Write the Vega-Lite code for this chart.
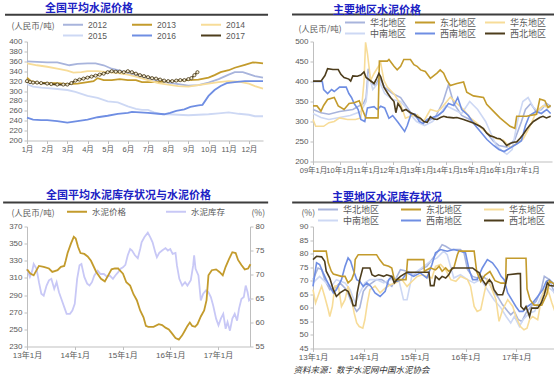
{
"$schema": "https://vega.github.io/schema/vega-lite/v6.json",
"background": "white",
"padding": {"left": 2, "top": 2.5, "right": 0, "bottom": 0},
"config": {
  "font": "Liberation Sans, Noto Sans CJK SC",
  "view": {"stroke": null},
  "axis": {"grid": false, "labelFontSize": 8, "labelColor": "#595959", "domainColor": "#bfbfbf", "tickColor": "#bfbfbf", "tickSize": 3, "labelPadding": 2, "labelOverlap": false, "labelFlush": false, "titleFontSize": 8.5, "titleColor": "#595959", "titleFontWeight": "normal", "titleFont": "Noto Sans CJK SC", "labelFont": "Liberation Sans, Noto Sans CJK SC"},
  "title": {"anchor": "start", "frame": "group", "fontSize": 11, "color": "#1c22c4", "font": "Noto Sans CJK SC", "fontWeight": "bold"},
  "legend": {"orient": "none", "direction": "horizontal", "symbolType": "M-6,0H-1", "symbolSize": 64, "symbolStrokeWidth": 2, "labelFontSize": 8.5, "labelColor": "#595959", "labelOffset": -4, "rowPadding": 1, "title": null, "labelFont": "Liberation Sans, Noto Sans CJK SC"}
},
"datasets": {
"p1": [
{"m":1,"s":"2012","v":360},{"m":1.5,"s":"2012","v":359},{"m":2,"s":"2012","v":358},{"m":2.5,"s":"2012","v":358},{"m":2.8,"s":"2012","v":355},{"m":3.1,"s":"2012","v":352},{"m":3.5,"s":"2012","v":355},{"m":4,"s":"2012","v":356},{"m":4.4,"s":"2012","v":356},{"m":4.8,"s":"2012","v":352},{"m":5.2,"s":"2012","v":345},{"m":5.6,"s":"2012","v":341},{"m":6,"s":"2012","v":336},{"m":6.5,"s":"2012","v":330},{"m":7,"s":"2012","v":325},{"m":7.5,"s":"2012","v":321},{"m":8,"s":"2012","v":317},{"m":8.5,"s":"2012","v":314},{"m":9,"s":"2012","v":311},{"m":9.5,"s":"2012","v":312},{"m":10,"s":"2012","v":317},{"m":10.5,"s":"2012","v":324},{"m":11,"s":"2012","v":333},{"m":11.3,"s":"2012","v":338},{"m":11.7,"s":"2012","v":338},{"m":12,"s":"2012","v":334},{"m":12.3,"s":"2012","v":330},{"m":12.7,"s":"2012","v":327},
{"m":1,"s":"2013","v":327},{"m":1.2,"s":"2013","v":320},{"m":1.5,"s":"2013","v":317},{"m":2,"s":"2013","v":316},{"m":2.5,"s":"2013","v":316},{"m":3,"s":"2013","v":314},{"m":3.5,"s":"2013","v":315},{"m":4,"s":"2013","v":318},{"m":4.3,"s":"2013","v":320},{"m":4.5,"s":"2013","v":326},{"m":4.8,"s":"2013","v":322},{"m":5.2,"s":"2013","v":322},{"m":5.6,"s":"2013","v":324},{"m":6,"s":"2013","v":322},{"m":6.4,"s":"2013","v":322},{"m":6.7,"s":"2013","v":318},{"m":7,"s":"2013","v":318},{"m":7.5,"s":"2013","v":318},{"m":8,"s":"2013","v":320},{"m":8.5,"s":"2013","v":321},{"m":9,"s":"2013","v":322},{"m":9.5,"s":"2013","v":323},{"m":10,"s":"2013","v":327},{"m":10.3,"s":"2013","v":332},{"m":10.6,"s":"2013","v":338},{"m":11,"s":"2013","v":342},{"m":11.3,"s":"2013","v":347},{"m":11.8,"s":"2013","v":353},{"m":12.2,"s":"2013","v":358},{"m":12.5,"s":"2013","v":357},{"m":12.7,"s":"2013","v":356},
{"m":1,"s":"2014","v":356},{"m":1.5,"s":"2014","v":352},{"m":2,"s":"2014","v":349},{"m":2.5,"s":"2014","v":345},{"m":3,"s":"2014","v":341},{"m":3.3,"s":"2014","v":337},{"m":3.7,"s":"2014","v":338},{"m":4,"s":"2014","v":340},{"m":4.5,"s":"2014","v":340},{"m":5,"s":"2014","v":338},{"m":5.5,"s":"2014","v":336},{"m":6,"s":"2014","v":333},{"m":6.5,"s":"2014","v":328},{"m":7,"s":"2014","v":322},{"m":7.5,"s":"2014","v":316},{"m":8,"s":"2014","v":313},{"m":8.5,"s":"2014","v":310},{"m":9,"s":"2014","v":309},{"m":9.5,"s":"2014","v":312},{"m":10,"s":"2014","v":315},{"m":10.5,"s":"2014","v":318},{"m":11,"s":"2014","v":320},{"m":11.5,"s":"2014","v":319},{"m":12,"s":"2014","v":315},{"m":12.3,"s":"2014","v":310},{"m":12.7,"s":"2014","v":305},
{"m":1,"s":"2015","v":314},{"m":1.3,"s":"2015","v":309},{"m":1.7,"s":"2015","v":307},{"m":2,"s":"2015","v":306},{"m":2.5,"s":"2015","v":304},{"m":3,"s":"2015","v":302},{"m":3.4,"s":"2015","v":298},{"m":3.7,"s":"2015","v":294},{"m":4,"s":"2015","v":290},{"m":4.5,"s":"2015","v":286},{"m":5,"s":"2015","v":279},{"m":5.5,"s":"2015","v":277},{"m":6,"s":"2015","v":269},{"m":6.4,"s":"2015","v":264},{"m":6.7,"s":"2015","v":262},{"m":7,"s":"2015","v":262},{"m":7.3,"s":"2015","v":257},{"m":7.7,"s":"2015","v":253},{"m":8,"s":"2015","v":253},{"m":8.5,"s":"2015","v":252},{"m":9,"s":"2015","v":251},{"m":9.5,"s":"2015","v":252},{"m":10,"s":"2015","v":253},{"m":10.5,"s":"2015","v":255},{"m":11,"s":"2015","v":257},{"m":11.5,"s":"2015","v":254},{"m":12,"s":"2015","v":252},{"m":12.3,"s":"2015","v":249},{"m":12.7,"s":"2015","v":249},
{"m":1,"s":"2016","v":246},{"m":1.3,"s":"2016","v":242},{"m":1.7,"s":"2016","v":241},{"m":2,"s":"2016","v":241},{"m":2.5,"s":"2016","v":239},{"m":3,"s":"2016","v":236},{"m":3.5,"s":"2016","v":239},{"m":4,"s":"2016","v":242},{"m":4.5,"s":"2016","v":247},{"m":5,"s":"2016","v":250},{"m":5.5,"s":"2016","v":254},{"m":6,"s":"2016","v":256},{"m":6.2,"s":"2016","v":258},{"m":6.6,"s":"2016","v":257},{"m":7,"s":"2016","v":256},{"m":7.5,"s":"2016","v":254},{"m":7.8,"s":"2016","v":253},{"m":8.1,"s":"2016","v":256},{"m":8.4,"s":"2016","v":260},{"m":8.8,"s":"2016","v":263},{"m":9.1,"s":"2016","v":268},{"m":9.5,"s":"2016","v":271},{"m":9.7,"s":"2016","v":272},{"m":10,"s":"2016","v":290},{"m":10.3,"s":"2016","v":302},{"m":10.6,"s":"2016","v":310},{"m":10.9,"s":"2016","v":316},{"m":11.3,"s":"2016","v":318},{"m":11.8,"s":"2016","v":320},{"m":12.7,"s":"2016","v":320},
{"m":1,"s":"2017","v":320},{"m":1.15,"s":"2017","v":318},{"m":1.3,"s":"2017","v":317},{"m":1.5,"s":"2017","v":317},{"m":1.7,"s":"2017","v":316},{"m":2,"s":"2017","v":315},{"m":2.2,"s":"2017","v":314},{"m":2.5,"s":"2017","v":313},{"m":2.8,"s":"2017","v":313},{"m":3,"s":"2017","v":313},{"m":3.2,"s":"2017","v":316},{"m":3.4,"s":"2017","v":321},{"m":3.6,"s":"2017","v":323},{"m":3.8,"s":"2017","v":325},{"m":4,"s":"2017","v":327},{"m":4.2,"s":"2017","v":329},{"m":4.4,"s":"2017","v":331},{"m":4.6,"s":"2017","v":333},{"m":4.8,"s":"2017","v":335},{"m":5,"s":"2017","v":338},{"m":5.2,"s":"2017","v":340},{"m":5.4,"s":"2017","v":339},{"m":5.6,"s":"2017","v":339},{"m":5.8,"s":"2017","v":338},{"m":6,"s":"2017","v":340},{"m":6.2,"s":"2017","v":338},{"m":6.4,"s":"2017","v":335},{"m":6.6,"s":"2017","v":332},{"m":6.8,"s":"2017","v":330},{"m":7,"s":"2017","v":328},{"m":7.2,"s":"2017","v":326},{"m":7.4,"s":"2017","v":325},{"m":7.6,"s":"2017","v":323},{"m":7.8,"s":"2017","v":321},{"m":8,"s":"2017","v":320},{"m":8.2,"s":"2017","v":320},{"m":8.4,"s":"2017","v":321},{"m":8.6,"s":"2017","v":322},{"m":8.8,"s":"2017","v":322},{"m":9,"s":"2017","v":324},{"m":9.15,"s":"2017","v":326},{"m":9.3,"s":"2017","v":332},{"m":9.45,"s":"2017","v":338}
],
"p2": [
{"x":2009.0,"s":"华北地区","v":330},{"x":2009.3,"s":"华北地区","v":322},{"x":2009.6,"s":"华北地区","v":318},{"x":2010.0,"s":"华北地区","v":325},{"x":2010.5,"s":"华北地区","v":330},{"x":2010.9,"s":"华北地区","v":345},{"x":2011.0,"s":"华北地区","v":360},{"x":2011.08,"s":"华北地区","v":432},{"x":2011.2,"s":"华北地区","v":395},{"x":2011.35,"s":"华北地区","v":390},{"x":2011.5,"s":"华北地区","v":410},{"x":2011.7,"s":"华北地区","v":385},{"x":2012.0,"s":"华北地区","v":370},{"x":2012.3,"s":"华北地区","v":360},{"x":2012.5,"s":"华北地区","v":340},{"x":2012.7,"s":"华北地区","v":320},{"x":2013.0,"s":"华北地区","v":305},{"x":2013.3,"s":"华北地区","v":300},{"x":2013.6,"s":"华北地区","v":310},{"x":2013.9,"s":"华北地区","v":350},{"x":2014.1,"s":"华北地区","v":392},{"x":2014.3,"s":"华北地区","v":345},{"x":2014.6,"s":"华北地区","v":315},{"x":2014.9,"s":"华北地区","v":305},{"x":2015.2,"s":"华北地区","v":292},{"x":2015.5,"s":"华北地区","v":275},{"x":2015.8,"s":"华北地区","v":250},{"x":2016.0,"s":"华北地区","v":240},{"x":2016.3,"s":"华北地区","v":236},{"x":2016.6,"s":"华北地区","v":255},{"x":2016.85,"s":"华北地区","v":300},{"x":2017.0,"s":"华北地区","v":330},{"x":2017.2,"s":"华北地区","v":345},{"x":2017.4,"s":"华北地区","v":325},{"x":2017.6,"s":"华北地区","v":330},{"x":2017.8,"s":"华北地区","v":345},{"x":2017.95,"s":"华北地区","v":338},
{"x":2009.0,"s":"中南地区","v":320},{"x":2009.3,"s":"中南地区","v":310},{"x":2009.6,"s":"中南地区","v":305},{"x":2010.0,"s":"中南地区","v":310},{"x":2010.4,"s":"中南地区","v":315},{"x":2010.8,"s":"中南地区","v":325},{"x":2011.0,"s":"中南地区","v":350},{"x":2011.1,"s":"中南地区","v":420},{"x":2011.25,"s":"中南地区","v":380},{"x":2011.5,"s":"中南地区","v":400},{"x":2011.7,"s":"中南地区","v":370},{"x":2012.0,"s":"中南地区","v":355},{"x":2012.3,"s":"中南地区","v":350},{"x":2012.5,"s":"中南地区","v":335},{"x":2012.7,"s":"中南地区","v":315},{"x":2012.9,"s":"中南地区","v":300},{"x":2013.2,"s":"中南地区","v":290},{"x":2013.5,"s":"中南地区","v":300},{"x":2013.8,"s":"中南地区","v":320},{"x":2014.0,"s":"中南地区","v":340},{"x":2014.3,"s":"中南地区","v":330},{"x":2014.6,"s":"中南地区","v":320},{"x":2014.9,"s":"中南地区","v":350},{"x":2015.2,"s":"中南地区","v":330},{"x":2015.5,"s":"中南地区","v":300},{"x":2015.7,"s":"中南地区","v":270},{"x":2015.9,"s":"中南地区","v":240},{"x":2016.1,"s":"中南地区","v":228},{"x":2016.3,"s":"中南地区","v":218},{"x":2016.5,"s":"中南地区","v":230},{"x":2016.7,"s":"中南地区","v":300},{"x":2016.9,"s":"中南地区","v":350},{"x":2017.1,"s":"中南地区","v":360},{"x":2017.3,"s":"中南地区","v":335},{"x":2017.5,"s":"中南地区","v":325},{"x":2017.75,"s":"中南地区","v":345},{"x":2017.95,"s":"中南地区","v":335},
{"x":2009.0,"s":"华东地区","v":305},{"x":2009.1,"s":"华东地区","v":288},{"x":2009.4,"s":"华东地区","v":288},{"x":2009.6,"s":"华东地区","v":297},{"x":2009.8,"s":"华东地区","v":300},{"x":2010.0,"s":"华东地区","v":309},{"x":2010.3,"s":"华东地区","v":305},{"x":2010.6,"s":"华东地区","v":305},{"x":2010.8,"s":"华东地区","v":309},{"x":2010.92,"s":"华东地区","v":400},{"x":2010.98,"s":"华东地区","v":498},{"x":2011.05,"s":"华东地区","v":470},{"x":2011.17,"s":"华东地区","v":403},{"x":2011.3,"s":"华东地区","v":420},{"x":2011.42,"s":"华东地区","v":433},{"x":2011.55,"s":"华东地区","v":446},{"x":2011.67,"s":"华东地区","v":403},{"x":2011.8,"s":"华东地区","v":386},{"x":2012.05,"s":"华东地区","v":369},{"x":2012.3,"s":"华东地区","v":343},{"x":2012.48,"s":"华东地区","v":308},{"x":2012.67,"s":"华东地区","v":313},{"x":2012.92,"s":"华东地区","v":317},{"x":2013.17,"s":"华东地区","v":300},{"x":2013.42,"s":"华东地区","v":330},{"x":2013.67,"s":"华东地区","v":325},{"x":2013.79,"s":"华东地区","v":330},{"x":2014.04,"s":"华东地区","v":350},{"x":2014.17,"s":"华东地区","v":361},{"x":2014.42,"s":"华东地区","v":345},{"x":2014.67,"s":"华东地区","v":330},{"x":2014.92,"s":"华东地区","v":309},{"x":2015.17,"s":"华东地区","v":296},{"x":2015.42,"s":"华东地区","v":279},{"x":2015.67,"s":"华东地区","v":266},{"x":2015.92,"s":"华东地区","v":257},{"x":2016.17,"s":"华东地区","v":253},{"x":2016.42,"s":"华东地区","v":235},{"x":2016.67,"s":"华东地区","v":245},{"x":2016.92,"s":"华东地区","v":257},{"x":2017.17,"s":"华东地区","v":288},{"x":2017.42,"s":"华东地区","v":326},{"x":2017.66,"s":"华东地区","v":339},{"x":2017.91,"s":"华东地区","v":335},
{"x":2009.0,"s":"西南地区","v":400},{"x":2009.35,"s":"西南地区","v":400},{"x":2009.4,"s":"西南地区","v":380},{"x":2009.55,"s":"西南地区","v":370},{"x":2009.7,"s":"西南地区","v":380},{"x":2009.8,"s":"西南地区","v":375},{"x":2010.0,"s":"西南地区","v":386},{"x":2010.25,"s":"西南地区","v":386},{"x":2010.35,"s":"西南地区","v":370},{"x":2010.45,"s":"西南地区","v":360},{"x":2010.55,"s":"西南地区","v":345},{"x":2010.7,"s":"西南地区","v":330},{"x":2010.8,"s":"西南地区","v":305},{"x":2010.95,"s":"西南地区","v":300},{"x":2011.05,"s":"西南地区","v":334},{"x":2011.3,"s":"西南地区","v":337},{"x":2011.42,"s":"西南地区","v":330},{"x":2011.55,"s":"西南地区","v":338},{"x":2011.7,"s":"西南地区","v":334},{"x":2011.86,"s":"西南地区","v":308},{"x":2012.0,"s":"西南地区","v":315},{"x":2012.2,"s":"西南地区","v":298},{"x":2012.45,"s":"西南地区","v":275},{"x":2012.55,"s":"西南地区","v":290},{"x":2012.7,"s":"西南地区","v":320},{"x":2012.85,"s":"西南地区","v":318},{"x":2013.0,"s":"西南地区","v":300},{"x":2013.15,"s":"西南地区","v":295},{"x":2013.3,"s":"西南地区","v":305},{"x":2013.5,"s":"西南地区","v":310},{"x":2013.7,"s":"西南地区","v":315},{"x":2013.9,"s":"西南地区","v":325},{"x":2014.1,"s":"西南地区","v":345},{"x":2014.3,"s":"西南地区","v":340},{"x":2014.45,"s":"西南地区","v":360},{"x":2014.6,"s":"西南地区","v":330},{"x":2014.85,"s":"西南地区","v":315},{"x":2015.05,"s":"西南地区","v":295},{"x":2015.3,"s":"西南地区","v":275},{"x":2015.55,"s":"西南地区","v":255},{"x":2015.8,"s":"西南地区","v":240},{"x":2016.0,"s":"西南地区","v":230},{"x":2016.2,"s":"西南地区","v":225},{"x":2016.45,"s":"西南地区","v":235},{"x":2016.7,"s":"西南地区","v":245},{"x":2016.85,"s":"西南地区","v":252},{"x":2017.0,"s":"西南地区","v":290},{"x":2017.15,"s":"西南地区","v":315},{"x":2017.4,"s":"西南地区","v":325},{"x":2017.6,"s":"西南地区","v":320},{"x":2017.8,"s":"西南地区","v":330},{"x":2017.95,"s":"西南地区","v":320},
{"x":2009.0,"s":"东北地区","v":339},{"x":2009.15,"s":"东北地区","v":339},{"x":2009.3,"s":"东北地区","v":326},{"x":2009.4,"s":"东北地区","v":340},{"x":2009.55,"s":"东北地区","v":355},{"x":2009.8,"s":"东北地区","v":360},{"x":2009.95,"s":"东北地区","v":339},{"x":2010.17,"s":"东北地区","v":330},{"x":2010.36,"s":"东北地区","v":345},{"x":2010.55,"s":"东北地区","v":347},{"x":2010.74,"s":"东北地区","v":352},{"x":2010.86,"s":"东北地区","v":330},{"x":2010.99,"s":"东北地区","v":309},{"x":2011.45,"s":"东北地区","v":309},{"x":2011.5,"s":"东北地区","v":451},{"x":2011.8,"s":"东北地区","v":451},{"x":2011.86,"s":"东北地区","v":455},{"x":2012.05,"s":"东北地区","v":438},{"x":2012.17,"s":"东北地区","v":429},{"x":2012.3,"s":"东北地区","v":438},{"x":2012.42,"s":"东北地区","v":455},{"x":2012.67,"s":"东北地区","v":455},{"x":2012.8,"s":"东北地区","v":442},{"x":2012.92,"s":"东北地区","v":438},{"x":2013.05,"s":"东北地区","v":429},{"x":2013.23,"s":"东北地区","v":425},{"x":2013.42,"s":"东北地区","v":408},{"x":2013.67,"s":"东北地区","v":421},{"x":2013.79,"s":"东北地区","v":429},{"x":2013.92,"s":"东北地区","v":421},{"x":2014.04,"s":"东北地区","v":403},{"x":2014.17,"s":"东北地区","v":390},{"x":2014.42,"s":"东北地区","v":395},{"x":2014.67,"s":"东北地区","v":399},{"x":2014.79,"s":"东北地区","v":373},{"x":2015.04,"s":"东北地区","v":364},{"x":2015.42,"s":"东北地区","v":360},{"x":2015.54,"s":"东北地区","v":343},{"x":2015.79,"s":"东北地区","v":326},{"x":2016.04,"s":"东北地区","v":309},{"x":2016.42,"s":"东北地区","v":288},{"x":2016.6,"s":"东北地区","v":283},{"x":2016.67,"s":"东北地区","v":313},{"x":2017.04,"s":"东北地区","v":313},{"x":2017.42,"s":"东北地区","v":318},{"x":2017.54,"s":"东北地区","v":356},{"x":2017.73,"s":"东北地区","v":352},{"x":2017.85,"s":"东北地区","v":335},{"x":2017.95,"s":"东北地区","v":340},
{"x":2009.0,"s":"西北地区","v":401},{"x":2009.3,"s":"西北地区","v":401},{"x":2009.45,"s":"西北地区","v":415},{"x":2009.55,"s":"西北地区","v":432},{"x":2009.75,"s":"西北地区","v":430},{"x":2009.95,"s":"西北地区","v":430},{"x":2010.05,"s":"西北地区","v":418},{"x":2010.17,"s":"西北地区","v":410},{"x":2010.35,"s":"西北地区","v":406},{"x":2010.42,"s":"西北地区","v":401},{"x":2010.5,"s":"西北地区","v":414},{"x":2010.67,"s":"西北地区","v":413},{"x":2010.8,"s":"西北地区","v":416},{"x":2010.92,"s":"西北地区","v":424},{"x":2011.0,"s":"西北地区","v":410},{"x":2011.1,"s":"西北地区","v":405},{"x":2011.2,"s":"西北地区","v":400},{"x":2011.3,"s":"西北地区","v":395},{"x":2011.38,"s":"西北地区","v":405},{"x":2011.48,"s":"西北地区","v":420},{"x":2011.55,"s":"西北地区","v":412},{"x":2011.67,"s":"西北地区","v":386},{"x":2011.8,"s":"西北地区","v":372},{"x":2011.92,"s":"西北地区","v":360},{"x":2012.05,"s":"西北地区","v":350},{"x":2012.12,"s":"西北地区","v":322},{"x":2012.2,"s":"西北地区","v":345},{"x":2012.3,"s":"西北地区","v":335},{"x":2012.36,"s":"西北地区","v":326},{"x":2012.5,"s":"西北地区","v":330},{"x":2012.67,"s":"西北地区","v":322},{"x":2012.8,"s":"西北地区","v":318},{"x":2012.92,"s":"西北地区","v":312},{"x":2013.05,"s":"西北地区","v":308},{"x":2013.17,"s":"西北地区","v":300},{"x":2013.3,"s":"西北地区","v":298},{"x":2013.42,"s":"西北地区","v":312},{"x":2013.55,"s":"西北地区","v":306},{"x":2013.67,"s":"西北地区","v":305},{"x":2013.8,"s":"西北地区","v":310},{"x":2013.92,"s":"西北地区","v":313},{"x":2014.04,"s":"西北地区","v":311},{"x":2014.29,"s":"西北地区","v":309},{"x":2014.42,"s":"西北地区","v":310},{"x":2014.67,"s":"西北地区","v":305},{"x":2014.8,"s":"西北地区","v":302},{"x":2015.04,"s":"西北地区","v":296},{"x":2015.29,"s":"西北地区","v":288},{"x":2015.42,"s":"西北地区","v":282},{"x":2015.54,"s":"西北地区","v":271},{"x":2015.67,"s":"西北地区","v":264},{"x":2015.79,"s":"西北地区","v":262},{"x":2015.92,"s":"西北地区","v":258},{"x":2016.04,"s":"西北地区","v":257},{"x":2016.17,"s":"西北地区","v":250},{"x":2016.29,"s":"西北地区","v":240},{"x":2016.42,"s":"西北地区","v":245},{"x":2016.55,"s":"西北地区","v":248},{"x":2016.67,"s":"西北地区","v":249},{"x":2016.8,"s":"西北地区","v":258},{"x":2016.92,"s":"西北地区","v":268},{"x":2017.04,"s":"西北地区","v":280},{"x":2017.17,"s":"西北地区","v":291},{"x":2017.3,"s":"西北地区","v":300},{"x":2017.42,"s":"西北地区","v":305},{"x":2017.54,"s":"西北地区","v":310},{"x":2017.66,"s":"西北地区","v":313},{"x":2017.79,"s":"西北地区","v":309},{"x":2017.95,"s":"西北地区","v":313}
],
"p3a": [
{"x":2013.0,"v":320},{"x":2013.07,"v":315},{"x":2013.14,"v":313},{"x":2013.18,"v":317},{"x":2013.25,"v":324},{"x":2013.35,"v":323},{"x":2013.46,"v":321},{"x":2013.53,"v":317},{"x":2013.64,"v":319},{"x":2013.71,"v":323},{"x":2013.78,"v":324},{"x":2013.81,"v":330},{"x":2013.85,"v":339},{"x":2013.92,"v":350},{"x":2013.98,"v":358},{"x":2014.02,"v":356},{"x":2014.07,"v":346},{"x":2014.12,"v":339},{"x":2014.2,"v":338},{"x":2014.27,"v":335},{"x":2014.34,"v":330},{"x":2014.45,"v":317},{"x":2014.55,"v":309},{"x":2014.63,"v":306},{"x":2014.7,"v":313},{"x":2014.77,"v":320},{"x":2014.84,"v":321},{"x":2014.91,"v":321},{"x":2014.94,"v":319},{"x":2015.01,"v":315},{"x":2015.08,"v":305},{"x":2015.16,"v":301},{"x":2015.23,"v":291},{"x":2015.3,"v":284},{"x":2015.37,"v":272},{"x":2015.44,"v":264},{"x":2015.49,"v":254},{"x":2015.54,"v":253},{"x":2015.65,"v":253},{"x":2015.76,"v":256},{"x":2015.83,"v":255},{"x":2015.9,"v":252},{"x":2015.97,"v":250},{"x":2016.04,"v":245},{"x":2016.11,"v":240},{"x":2016.18,"v":238},{"x":2016.25,"v":243},{"x":2016.31,"v":249},{"x":2016.36,"v":254},{"x":2016.41,"v":258},{"x":2016.46,"v":254},{"x":2016.52,"v":253},{"x":2016.57,"v":256},{"x":2016.64,"v":265},{"x":2016.71,"v":272},{"x":2016.76,"v":284},{"x":2016.8,"v":313},{"x":2016.87,"v":319},{"x":2016.96,"v":320},{"x":2017.03,"v":317},{"x":2017.1,"v":313},{"x":2017.16,"v":323},{"x":2017.23,"v":332},{"x":2017.3,"v":340},{"x":2017.37,"v":339},{"x":2017.42,"v":331},{"x":2017.49,"v":325},{"x":2017.56,"v":320},{"x":2017.63,"v":321},{"x":2017.68,"v":326}
],
"p3b": [
{"x":2013.0,"v":71.2},{"x":2013.06,"v":69.5},{"x":2013.11,"v":70.8},{"x":2013.14,"v":72.2},{"x":2013.2,"v":71.2},{"x":2013.25,"v":68.4},{"x":2013.3,"v":66},{"x":2013.35,"v":65.6},{"x":2013.41,"v":67.7},{"x":2013.46,"v":68.8},{"x":2013.51,"v":69.1},{"x":2013.57,"v":67},{"x":2013.62,"v":68.4},{"x":2013.67,"v":66.3},{"x":2013.72,"v":64.9},{"x":2013.78,"v":63.2},{"x":2013.83,"v":61.8},{"x":2013.9,"v":61.8},{"x":2013.95,"v":62.5},{"x":2014.0,"v":63.9},{"x":2014.05,"v":69.1},{"x":2014.1,"v":71.9},{"x":2014.14,"v":72.2},{"x":2014.2,"v":69.5},{"x":2014.26,"v":68.1},{"x":2014.31,"v":67.7},{"x":2014.36,"v":68.4},{"x":2014.41,"v":69.8},{"x":2014.48,"v":70.8},{"x":2014.54,"v":70.1},{"x":2014.61,"v":70.1},{"x":2014.68,"v":69.5},{"x":2014.73,"v":69.8},{"x":2014.8,"v":69.1},{"x":2014.85,"v":69.8},{"x":2014.91,"v":70.5},{"x":2014.96,"v":71.2},{"x":2015.01,"v":71.5},{"x":2015.06,"v":72},{"x":2015.11,"v":74},{"x":2015.16,"v":75.3},{"x":2015.2,"v":75},{"x":2015.26,"v":74},{"x":2015.32,"v":73.4},{"x":2015.37,"v":75.3},{"x":2015.4,"v":76.7},{"x":2015.46,"v":77.8},{"x":2015.53,"v":78.7},{"x":2015.58,"v":77.8},{"x":2015.63,"v":76.7},{"x":2015.69,"v":74.5},{"x":2015.72,"v":73.6},{"x":2015.77,"v":74.5},{"x":2015.83,"v":75},{"x":2015.9,"v":75.5},{"x":2015.95,"v":75},{"x":2016.0,"v":75.3},{"x":2016.05,"v":74.3},{"x":2016.11,"v":74.5},{"x":2016.14,"v":71.9},{"x":2016.19,"v":69.1},{"x":2016.25,"v":67.7},{"x":2016.31,"v":68.4},{"x":2016.36,"v":67.7},{"x":2016.43,"v":68.8},{"x":2016.48,"v":71.9},{"x":2016.5,"v":74},{"x":2016.53,"v":71.2},{"x":2016.59,"v":69.8},{"x":2016.64,"v":64.6},{"x":2016.69,"v":66},{"x":2016.75,"v":66.7},{"x":2016.8,"v":66.3},{"x":2016.85,"v":65.3},{"x":2016.9,"v":63.5},{"x":2016.96,"v":60.8},{"x":2017.01,"v":59.4},{"x":2017.06,"v":60.8},{"x":2017.11,"v":61.8},{"x":2017.16,"v":58.7},{"x":2017.2,"v":60.1},{"x":2017.25,"v":58.3},{"x":2017.3,"v":60.8},{"x":2017.35,"v":61.8},{"x":2017.4,"v":60.4},{"x":2017.44,"v":62.9},{"x":2017.49,"v":64.9},{"x":2017.54,"v":65.3},{"x":2017.58,"v":67.7},{"x":2017.62,"v":66.3},{"x":2017.65,"v":64.6},{"x":2017.68,"v":64.9}
],
"p4": [
{"x":2013.0,"s":"华北地区","v":70.4},{"x":2013.1,"s":"华北地区","v":74.7},{"x":2013.17,"s":"华北地区","v":74.1},{"x":2013.23,"s":"华北地区","v":70.4},{"x":2013.33,"s":"华北地区","v":66.7},{"x":2013.43,"s":"华北地区","v":67.3},{"x":2013.53,"s":"华北地区","v":69.2},{"x":2013.66,"s":"华北地区","v":66.7},{"x":2013.76,"s":"华北地区","v":61.8},{"x":2013.86,"s":"华北地区","v":58.7},{"x":2013.92,"s":"华北地区","v":60},{"x":2013.99,"s":"华北地区","v":66.1},{"x":2014.06,"s":"华北地区","v":67.9},{"x":2014.16,"s":"华北地区","v":69.2},{"x":2014.25,"s":"华北地区","v":70.4},{"x":2014.35,"s":"华北地区","v":70.4},{"x":2014.45,"s":"华北地区","v":69.2},{"x":2014.55,"s":"华北地区","v":67.9},{"x":2014.62,"s":"华北地区","v":70.4},{"x":2014.72,"s":"华北地区","v":74.1},{"x":2014.85,"s":"华北地区","v":73.5},{"x":2014.98,"s":"华北地区","v":72.2},{"x":2015.11,"s":"华北地区","v":74.1},{"x":2015.24,"s":"华北地区","v":75.3},{"x":2015.34,"s":"华北地区","v":77.8},{"x":2015.44,"s":"华北地区","v":80.3},{"x":2015.54,"s":"华北地区","v":83.3},{"x":2015.61,"s":"华北地区","v":82.7},{"x":2015.71,"s":"华北地区","v":81.5},{"x":2015.9,"s":"华北地区","v":81.5},{"x":2015.97,"s":"华北地区","v":80.3},{"x":2016.04,"s":"华北地区","v":74.1},{"x":2016.14,"s":"华北地区","v":71.6},{"x":2016.23,"s":"华北地区","v":71},{"x":2016.33,"s":"华北地区","v":71.6},{"x":2016.43,"s":"华北地区","v":70.4},{"x":2016.53,"s":"华北地区","v":66.7},{"x":2016.63,"s":"华北地区","v":64.2},{"x":2016.73,"s":"华北地区","v":61.1},{"x":2016.83,"s":"华北地区","v":58.7},{"x":2016.89,"s":"华北地区","v":57.4},{"x":2016.96,"s":"华北地区","v":58.7},{"x":2017.04,"s":"华北地区","v":55.6},{"x":2017.11,"s":"华北地区","v":55},{"x":2017.19,"s":"华北地区","v":58.1},{"x":2017.29,"s":"华北地区","v":60.5},{"x":2017.39,"s":"华北地区","v":62.4},{"x":2017.49,"s":"华北地区","v":66.7},{"x":2017.55,"s":"华北地区","v":71.6},{"x":2017.65,"s":"华北地区","v":70.4},{"x":2017.75,"s":"华北地区","v":65.5},{"x":2017.8,"s":"华北地区","v":63},
{"x":2013.0,"s":"中南地区","v":69.2},{"x":2013.13,"s":"中南地区","v":71.6},{"x":2013.26,"s":"中南地区","v":69.2},{"x":2013.36,"s":"中南地区","v":67.9},{"x":2013.46,"s":"中南地区","v":70.4},{"x":2013.63,"s":"中南地区","v":69.2},{"x":2013.73,"s":"中南地区","v":66.7},{"x":2013.83,"s":"中南地区","v":61.8},{"x":2013.92,"s":"中南地区","v":65.5},{"x":2014.02,"s":"中南地区","v":69.2},{"x":2014.12,"s":"中南地区","v":70.4},{"x":2014.25,"s":"中南地区","v":70.4},{"x":2014.39,"s":"中南地区","v":69.2},{"x":2014.52,"s":"中南地区","v":70.4},{"x":2014.68,"s":"中南地区","v":71},{"x":2014.78,"s":"中南地区","v":63},{"x":2014.85,"s":"中南地区","v":63},{"x":2014.95,"s":"中南地区","v":72.2},{"x":2015.05,"s":"中南地区","v":73.5},{"x":2015.18,"s":"中南地区","v":75.3},{"x":2015.31,"s":"中南地区","v":77.2},{"x":2015.44,"s":"中南地区","v":78.4},{"x":2015.57,"s":"中南地区","v":80.9},{"x":2015.64,"s":"中南地区","v":79.6},{"x":2015.77,"s":"中南地区","v":71},{"x":2015.9,"s":"中南地区","v":72.2},{"x":2016.04,"s":"中南地区","v":70.4},{"x":2016.17,"s":"中南地区","v":69.2},{"x":2016.3,"s":"中南地区","v":70.4},{"x":2016.43,"s":"中南地区","v":66.7},{"x":2016.56,"s":"中南地区","v":63},{"x":2016.7,"s":"中南地区","v":59.9},{"x":2016.8,"s":"中南地区","v":56.8},{"x":2016.89,"s":"中南地区","v":54.4},{"x":2016.96,"s":"中南地区","v":56.8},{"x":2017.06,"s":"中南地区","v":53.1},{"x":2017.13,"s":"中南地区","v":55.6},{"x":2017.26,"s":"中南地区","v":58.1},{"x":2017.36,"s":"中南地区","v":58.7},{"x":2017.49,"s":"中南地区","v":64.2},{"x":2017.59,"s":"中南地区","v":67.9},{"x":2017.69,"s":"中南地区","v":66.7},{"x":2017.8,"s":"中南地区","v":64.8},
{"x":2013.0,"s":"华东地区","v":66.7},{"x":2013.05,"s":"华东地区","v":61.8},{"x":2013.12,"s":"华东地区","v":65.5},{"x":2013.17,"s":"华东地区","v":68},{"x":2013.23,"s":"华东地区","v":64.2},{"x":2013.3,"s":"华东地区","v":59.3},{"x":2013.33,"s":"华东地区","v":56.8},{"x":2013.38,"s":"华东地区","v":60.5},{"x":2013.43,"s":"华东地区","v":68},{"x":2013.5,"s":"华东地区","v":68},{"x":2013.56,"s":"华东地区","v":60.5},{"x":2013.63,"s":"华东地区","v":63},{"x":2013.69,"s":"华东地区","v":68},{"x":2013.76,"s":"华东地区","v":63},{"x":2013.81,"s":"华东地区","v":58.1},{"x":2013.86,"s":"华东地区","v":54.4},{"x":2013.91,"s":"华东地区","v":53.1},{"x":2013.98,"s":"华东地区","v":52.5},{"x":2014.02,"s":"华东地区","v":55.6},{"x":2014.07,"s":"华东地区","v":61.8},{"x":2014.12,"s":"华东地区","v":66.7},{"x":2014.22,"s":"华东地区","v":68},{"x":2014.32,"s":"华东地区","v":65.5},{"x":2014.42,"s":"华东地区","v":67.3},{"x":2014.52,"s":"华东地区","v":68.5},{"x":2014.62,"s":"华东地区","v":69.2},{"x":2014.75,"s":"华东地区","v":70.4},{"x":2014.85,"s":"华东地区","v":67.9},{"x":2014.95,"s":"华东地区","v":69.8},{"x":2015.05,"s":"华东地区","v":71.6},{"x":2015.15,"s":"华东地区","v":72.2},{"x":2015.24,"s":"华东地区","v":71.6},{"x":2015.34,"s":"华东地区","v":71},{"x":2015.41,"s":"华东地区","v":75.3},{"x":2015.51,"s":"华东地区","v":76},{"x":2015.61,"s":"华东地区","v":74.1},{"x":2015.71,"s":"华东地区","v":70.4},{"x":2015.81,"s":"华东地区","v":69.8},{"x":2015.9,"s":"华东地区","v":71.6},{"x":2016.04,"s":"华东地区","v":70.4},{"x":2016.1,"s":"华东地区","v":67.9},{"x":2016.17,"s":"华东地区","v":60.5},{"x":2016.23,"s":"华东地区","v":58.7},{"x":2016.3,"s":"华东地区","v":59.3},{"x":2016.37,"s":"华东地区","v":65.5},{"x":2016.43,"s":"华东地区","v":70.4},{"x":2016.5,"s":"华东地区","v":67.9},{"x":2016.6,"s":"华东地区","v":63},{"x":2016.66,"s":"华东地区","v":55},{"x":2016.73,"s":"华东地区","v":59.3},{"x":2016.83,"s":"华东地区","v":63},{"x":2016.93,"s":"华东地区","v":60.5},{"x":2016.99,"s":"华东地区","v":56.8},{"x":2017.08,"s":"华东地区","v":53.1},{"x":2017.15,"s":"华东地区","v":51.9},{"x":2017.21,"s":"华东地区","v":52.5},{"x":2017.26,"s":"华东地区","v":55.6},{"x":2017.32,"s":"华东地区","v":56.8},{"x":2017.42,"s":"华东地区","v":55.6},{"x":2017.49,"s":"华东地区","v":63},{"x":2017.55,"s":"华东地区","v":66.7},{"x":2017.62,"s":"华东地区","v":66.7},{"x":2017.7,"s":"华东地区","v":61.8},{"x":2017.77,"s":"华东地区","v":58.1},{"x":2017.8,"s":"华东地区","v":55.6},
{"x":2013.0,"s":"西南地区","v":67.9},{"x":2013.07,"s":"西南地区","v":76.6},{"x":2013.13,"s":"西南地区","v":76},{"x":2013.2,"s":"西南地区","v":72.9},{"x":2013.26,"s":"西南地区","v":70.4},{"x":2013.33,"s":"西南地区","v":67.9},{"x":2013.4,"s":"西南地区","v":65.5},{"x":2013.46,"s":"西南地区","v":66.7},{"x":2013.56,"s":"西南地区","v":70.4},{"x":2013.63,"s":"西南地区","v":75.3},{"x":2013.69,"s":"西南地区","v":78.4},{"x":2013.74,"s":"西南地区","v":77.2},{"x":2013.79,"s":"西南地区","v":74.1},{"x":2013.86,"s":"西南地区","v":70.4},{"x":2013.92,"s":"西南地区","v":69.8},{"x":2013.99,"s":"西南地区","v":67.9},{"x":2014.06,"s":"西南地区","v":69.2},{"x":2014.14,"s":"西南地区","v":67.9},{"x":2014.22,"s":"西南地区","v":65.5},{"x":2014.32,"s":"西南地区","v":64.2},{"x":2014.42,"s":"西南地区","v":66.1},{"x":2014.49,"s":"西南地区","v":70.4},{"x":2014.55,"s":"西南地区","v":71.6},{"x":2014.65,"s":"西南地区","v":69.8},{"x":2014.75,"s":"西南地区","v":70.4},{"x":2014.85,"s":"西南地区","v":72.9},{"x":2014.98,"s":"西南地区","v":71.6},{"x":2015.11,"s":"西南地区","v":72.9},{"x":2015.24,"s":"西南地区","v":71},{"x":2015.34,"s":"西南地区","v":76},{"x":2015.41,"s":"西南地区","v":80.3},{"x":2015.51,"s":"西南地区","v":81.5},{"x":2015.64,"s":"西南地区","v":80.9},{"x":2015.77,"s":"西南地区","v":81.5},{"x":2015.9,"s":"西南地区","v":80.9},{"x":2016.0,"s":"西南地区","v":80.3},{"x":2016.07,"s":"西南地区","v":74.1},{"x":2016.14,"s":"西南地区","v":70.4},{"x":2016.23,"s":"西南地区","v":70.4},{"x":2016.33,"s":"西南地区","v":74.7},{"x":2016.43,"s":"西南地区","v":77.8},{"x":2016.53,"s":"西南地区","v":76.6},{"x":2016.63,"s":"西南地区","v":74.1},{"x":2016.7,"s":"西南地区","v":71.6},{"x":2016.76,"s":"西南地区","v":70.4},{"x":2016.83,"s":"西南地区","v":65.5},{"x":2016.93,"s":"西南地区","v":62.4},{"x":2016.99,"s":"西南地区","v":60.5},{"x":2017.06,"s":"西南地区","v":58.7},{"x":2017.13,"s":"西南地区","v":58.7},{"x":2017.22,"s":"西南地区","v":60.5},{"x":2017.32,"s":"西南地区","v":61.8},{"x":2017.42,"s":"西南地区","v":64.2},{"x":2017.52,"s":"西南地区","v":66.7},{"x":2017.59,"s":"西南地区","v":69.8},{"x":2017.65,"s":"西南地区","v":70.4},{"x":2017.72,"s":"西南地区","v":69.2},{"x":2017.8,"s":"西南地区","v":66.7},
{"x":2013.0,"s":"东北地区","v":80.9},{"x":2013.26,"s":"东北地区","v":80.9},{"x":2013.3,"s":"东北地区","v":76.6},{"x":2013.36,"s":"东北地区","v":73.5},{"x":2013.4,"s":"东北地区","v":72.5},{"x":2013.56,"s":"东北地区","v":71.6},{"x":2013.63,"s":"东北地区","v":71.6},{"x":2013.69,"s":"东北地区","v":69.2},{"x":2013.76,"s":"东北地区","v":70.4},{"x":2013.81,"s":"东北地区","v":72.9},{"x":2013.83,"s":"东北地区","v":77.8},{"x":2013.89,"s":"东北地区","v":79.6},{"x":2014.25,"s":"东北地区","v":79.6},{"x":2014.31,"s":"东北地区","v":77.8},{"x":2014.39,"s":"东北地区","v":75.9},{"x":2014.49,"s":"东北地区","v":75.3},{"x":2014.55,"s":"东北地区","v":74.7},{"x":2014.6,"s":"东北地区","v":70.4},{"x":2014.83,"s":"东北地区","v":70.4},{"x":2014.86,"s":"东北地区","v":77.8},{"x":2015.18,"s":"东北地区","v":77.8},{"x":2015.19,"s":"东北地区","v":73.5},{"x":2015.31,"s":"东北地区","v":74.7},{"x":2015.41,"s":"东北地区","v":74},{"x":2015.48,"s":"东北地区","v":75.3},{"x":2015.54,"s":"东北地区","v":73.5},{"x":2015.61,"s":"东北地区","v":74.7},{"x":2015.67,"s":"东北地区","v":73.5},{"x":2015.77,"s":"东北地区","v":74.7},{"x":2015.84,"s":"东北地区","v":79.6},{"x":2015.87,"s":"东北地区","v":80.9},{"x":2016.17,"s":"东北地区","v":80.9},{"x":2016.22,"s":"东北地区","v":73.4},{"x":2016.3,"s":"东北地区","v":69.7},{"x":2016.38,"s":"东北地区","v":72},{"x":2016.48,"s":"东北地区","v":73.4},{"x":2016.58,"s":"东北地区","v":70},{"x":2016.7,"s":"东北地区","v":69.1},{"x":2016.79,"s":"东北地区","v":69.1},{"x":2016.8,"s":"东北地区","v":78.3},{"x":2017.19,"s":"东北地区","v":78.3},{"x":2017.21,"s":"东北地区","v":67},{"x":2017.27,"s":"东北地区","v":63},{"x":2017.35,"s":"东北地区","v":61},{"x":2017.5,"s":"东北地区","v":61},{"x":2017.6,"s":"东北地区","v":65},{"x":2017.65,"s":"东北地区","v":70},{"x":2017.8,"s":"东北地区","v":68},
{"x":2013.0,"s":"西北地区","v":77.8},{"x":2013.07,"s":"西北地区","v":79},{"x":2013.17,"s":"西北地区","v":78.8},{"x":2013.23,"s":"西北地区","v":77.2},{"x":2013.26,"s":"西北地区","v":73.5},{"x":2013.33,"s":"西北地区","v":71},{"x":2013.4,"s":"西北地区","v":66.7},{"x":2013.46,"s":"西北地区","v":64.2},{"x":2013.53,"s":"西北地区","v":65.5},{"x":2013.63,"s":"西北地区","v":66.7},{"x":2013.69,"s":"西北地区","v":66.1},{"x":2013.76,"s":"西北地区","v":63},{"x":2013.79,"s":"西北地区","v":60.8},{"x":2013.84,"s":"西北地区","v":60.8},{"x":2013.87,"s":"西北地区","v":65.5},{"x":2013.92,"s":"西北地区","v":70.4},{"x":2013.98,"s":"西北地区","v":74.7},{"x":2014.12,"s":"西北地区","v":74.7},{"x":2014.16,"s":"西北地区","v":72.2},{"x":2014.22,"s":"西北地区","v":71.6},{"x":2014.29,"s":"西北地区","v":72.2},{"x":2014.39,"s":"西北地区","v":71.6},{"x":2014.45,"s":"西北地区","v":72.2},{"x":2014.55,"s":"西北地区","v":71.6},{"x":2014.6,"s":"西北地区","v":69.2},{"x":2014.65,"s":"西北地区","v":70.4},{"x":2014.72,"s":"西北地区","v":71.6},{"x":2014.85,"s":"西北地区","v":73.1},{"x":2015.28,"s":"西北地区","v":73.1},{"x":2015.31,"s":"西北地区","v":68.2},{"x":2015.38,"s":"西北地区","v":68.2},{"x":2015.41,"s":"西北地区","v":71.6},{"x":2015.48,"s":"西北地区","v":70.4},{"x":2015.54,"s":"西北地区","v":71.6},{"x":2015.61,"s":"西北地区","v":71},{"x":2015.67,"s":"西北地区","v":72.2},{"x":2015.74,"s":"西北地区","v":74.7},{"x":2016.14,"s":"西北地区","v":74.7},{"x":2016.2,"s":"西北地区","v":73.8},{"x":2016.27,"s":"西北地区","v":72.9},{"x":2016.33,"s":"西北地区","v":70.4},{"x":2016.4,"s":"西北地区","v":68.5},{"x":2016.47,"s":"西北地区","v":70.4},{"x":2016.52,"s":"西北地区","v":69.2},{"x":2016.56,"s":"西北地区","v":66.7},{"x":2016.63,"s":"西北地区","v":64.8},{"x":2016.73,"s":"西北地区","v":64.8},{"x":2016.76,"s":"西北地区","v":66.7},{"x":2016.83,"s":"西北地区","v":72.2},{"x":2017.03,"s":"西北地区","v":72.6},{"x":2017.08,"s":"西北地区","v":72.6},{"x":2017.09,"s":"西北地区","v":60.5},{"x":2017.15,"s":"西北地区","v":59.3},{"x":2017.19,"s":"西北地区","v":60.5},{"x":2017.26,"s":"西北地区","v":56.8},{"x":2017.3,"s":"西北地区","v":59.9},{"x":2017.42,"s":"西北地区","v":59.9},{"x":2017.49,"s":"西北地区","v":61.8},{"x":2017.55,"s":"西北地区","v":64.8},{"x":2017.61,"s":"西北地区","v":69.2},{"x":2017.65,"s":"西北地区","v":68.2},{"x":2017.8,"s":"西北地区","v":68}
]
},
"columns": 2,
"spacing": {"row": 65, "column": 50},
"bounds": "flush",
"resolve": {"scale": {"color": "independent", "x": "independent", "y": "independent"}, "legend": {"color": "independent"}},
"concat": [
{
  "width": 236, "height": 99,
  "title": {"text": "全国平均水泥价格", "dx": 18, "offset": -0.5},
  "resolve": {"axis": {"x": "independent", "y": "independent"}},
  "layer": [
    {"data": {"name": "p1"}, "mark": {"type": "line", "strokeWidth": 1.8},
     "encoding": {
       "x": {"field": "m", "type": "quantitative", "scale": {"domain": [1, 12.7], "nice": false, "zero": false}, "axis": {"values": [1,2,3,4,5,6,7,8,9,10,11,12], "labelExpr": "datum.value + '月'", "title": null, "labelFontSize": 7.5, "labelOverlap": false, "labelFlush": false}},
       "y": {"field": "v", "type": "quantitative", "scale": {"domain": [200, 400], "nice": false, "zero": false}, "axis": {"values": [200,220,240,260,280,300,320,340,360,380,400], "labelOverlap": false, "title": "(人民币/吨)", "titleAngle": 0, "titleAlign": "left", "titleBaseline": "middle", "titleX": -16, "titleY": -16}},
       "color": {"field": "s", "type": "nominal", "scale": {"domain": ["2012","2013","2014","2015","2016","2017"], "range": ["#a8b4dc","#c39b2c","#f7dc98","#cdd8f4","#6f8ee3","#4d3d1c"]}, "legend": {"columns": 3, "legendX": 55, "legendY": -22, "columnPadding": 21}}
     }},
    {"data": {"name": "p1"}, "transform": [{"filter": "datum.s == '2017'"}], "mark": {"type": "point", "filled": true, "size": 10, "fill": "#f2ead2", "stroke": "#4d3d1c", "strokeWidth": 0.8, "opacity": 1},
     "encoding": {"x": {"field": "m", "type": "quantitative", "axis": null}, "y": {"field": "v", "type": "quantitative", "axis": null}}},
    {"data": {"values": [{}]}, "mark": {"type": "rule", "color": "#3d3d3d", "strokeWidth": 2, "clip": false},
     "encoding": {"x": {"datum": -0.09, "axis": null}, "x2": {"datum": 12.95}, "y": {"datum": 454, "axis": null}}}
  ]
},
{
  "width": 239, "height": 120,
  "title": {"text": "主要地区水泥价格", "dx": 20, "offset": -2.5},
  "resolve": {"axis": {"x": "independent", "y": "independent"}},
  "layer": [
    {"data": {"name": "p2"}, "mark": {"type": "line", "strokeWidth": 1.6},
     "encoding": {
       "x": {"field": "x", "type": "quantitative", "scale": {"domain": [2009, 2018], "nice": false, "zero": false}, "axis": {"values": [2009,2010,2011,2012,2013,2014,2015,2016,2017], "labelExpr": "substring(toString(datum.value), 2, 4) + '年1月'", "title": null, "labelFontSize": 7.5, "labelOverlap": false, "labelFlush": false}},
       "y": {"field": "v", "type": "quantitative", "scale": {"domain": [200, 500], "nice": false, "zero": false}, "axis": {"values": [200,250,300,350,400,450,500], "labelOverlap": false, "title": "(人民币/吨)", "titleAngle": 0, "titleAlign": "left", "titleBaseline": "middle", "titleX": -15, "titleY": -13}},
       "color": {"field": "s", "type": "nominal", "scale": {"domain": ["华北地区","东北地区","华东地区","中南地区","西南地区","西北地区"], "range": ["#a8b4dc","#c39b2c","#f7dc98","#cdd8f4","#6f8ee3","#4d3d1c"]}, "legend": {"columns": 3, "legendX": 51, "legendY": -24, "columnPadding": 4, "labelFontSize": 9}}
     }},
    {"data": {"values": [{}]}, "mark": {"type": "rule", "color": "#3d3d3d", "strokeWidth": 2, "clip": false},
     "encoding": {"x": {"datum": 2008.21, "axis": null}, "x2": {"datum": 2018.19}, "y": {"datum": 567.5, "axis": null}}}
  ]
},
{
  "width": 223, "height": 120,
  "title": {"text": "全国平均水泥库存状况与水泥价格", "dx": 19, "offset": 0.5},
  "resolve": {"scale": {"y": "independent"}, "axis": {"x": "independent", "y": "independent"}},
  "layer": [
    {"data": {"name": "p3b"}, "mark": {"type": "line", "strokeWidth": 1.8},
     "encoding": {
       "x": {"field": "x", "type": "quantitative", "scale": {"domain": [2013, 2017.67], "nice": false, "zero": false}, "axis": {"values": [2013,2014,2015,2016,2017], "labelExpr": "substring(toString(datum.value), 2, 4) + '年1月'", "title": null, "labelOverlap": false, "labelFlush": false}},
       "y": {"field": "v", "type": "quantitative", "scale": {"domain": [55, 80], "nice": false, "zero": false}, "axis": {"orient": "right", "values": [55,60,65,70,75,80], "labelOverlap": false, "title": "(%)", "titleAngle": 0, "titleAlign": "left", "titleBaseline": "middle", "titleX": 1, "titleY": -14}},
       "color": {"datum": "水泥库存", "scale": {"domain": ["水泥价格","水泥库存"], "range": ["#c39b2c","#c8c8f6"]}, "legend": {"columns": 2, "legendX": 59, "legendY": -20, "columnPadding": 35}}
     }},
    {"data": {"name": "p3a"}, "mark": {"type": "line", "strokeWidth": 1.8},
     "encoding": {
       "x": {"field": "x", "type": "quantitative", "axis": null},
       "y": {"field": "v", "type": "quantitative", "scale": {"domain": [230, 370], "nice": false, "zero": false}, "axis": {"orient": "left", "values": [230,250,270,290,310,330,350,370], "labelOverlap": false, "title": "(人民币/吨)", "titleAngle": 0, "titleAlign": "left", "titleBaseline": "middle", "titleX": -16, "titleY": -14}},
       "color": {"datum": "水泥价格"}
     }},
    {"data": {"values": [{}]}, "mark": {"type": "rule", "color": "#3d3d3d", "strokeWidth": 2, "clip": false},
     "encoding": {"x": {"datum": 2012.5, "axis": null}, "x2": {"datum": 2018.05}, "y": {"datum": 398, "scale": {"domain": [230, 370]}, "axis": null}}}
  ]
},
{
  "width": 244, "height": 122,
  "title": {"text": "主要地区水泥库存状况", "dx": 19, "offset": -1.5},
  "resolve": {"axis": {"x": "independent", "y": "independent"}},
  "layer": [
    {"data": {"name": "p4"}, "mark": {"type": "line", "strokeWidth": 1.6},
     "encoding": {
       "x": {"field": "x", "type": "quantitative", "scale": {"domain": [2013, 2017.8], "nice": false, "zero": false}, "axis": {"values": [2013,2014,2015,2016,2017], "labelExpr": "substring(toString(datum.value), 2, 4) + '年1月'", "labelOverlap": false, "labelFlush": false, "title": "资料来源：数字水泥网中国水泥协会", "titleFontStyle": "italic", "titleFontSize": 8.5, "titleColor": "#333333", "titleAnchor": "start", "titleAlign": "left", "titleX": -20, "titleY": 21, "titleBaseline": "middle"}},
       "y": {"field": "v", "type": "quantitative", "scale": {"domain": [45, 90], "nice": false, "zero": false}, "axis": {"values": [45,50,55,60,65,70,75,80,85,90], "labelOverlap": false, "title": "(%)", "titleAngle": 0, "titleAlign": "left", "titleBaseline": "middle", "titleX": -12, "titleY": -14}},
       "color": {"field": "s", "type": "nominal", "scale": {"domain": ["华北地区","东北地区","华东地区","中南地区","西南地区","西北地区"], "range": ["#a8b4dc","#c39b2c","#f7dc98","#cdd8f4","#6f8ee3","#4d3d1c"]}, "legend": {"columns": 3, "legendX": 24, "legendY": -22, "columnPadding": 17, "labelFontSize": 9}}
     }},
    {"data": {"values": [{}]}, "mark": {"type": "rule", "color": "#3d3d3d", "strokeWidth": 2, "clip": false},
     "encoding": {"x": {"datum": 2012.59, "axis": null}, "x2": {"datum": 2017.8}, "y": {"datum": 98.85, "axis": null}}}
  ]
}
]
}
